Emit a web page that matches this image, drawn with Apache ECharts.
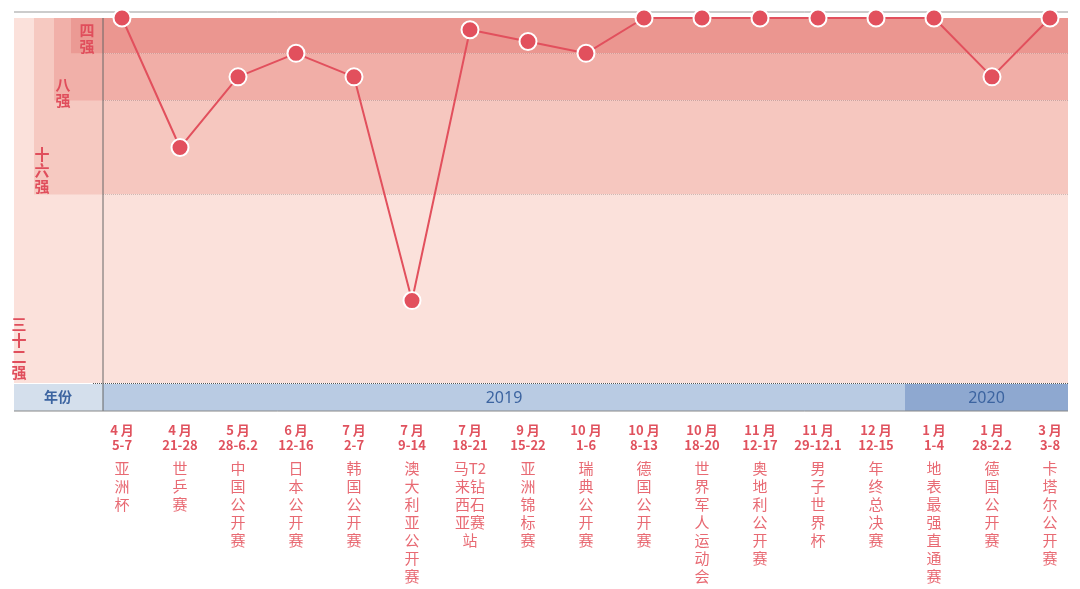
<!DOCTYPE html>
<html><head><meta charset="utf-8">
<script src="https://cdn.jsdelivr.net/npm/echarts@6/dist/echarts.min.js"></script>
<style>html,body{margin:0;padding:0;background:#fff}#c{width:1080px;height:589px}</style>
</head><body><div id="c"></div>
<script>
const months = ['4月','4月','5月','6月','7月','7月','7月','9月','10月','10月','10月','11月','11月','12月','1月','1月','3月'];
const dates = ['5-7','21-28','28-6.2','12-16','2-7','9-14','18-21','15-22','1-6','8-13','18-20','12-17','29-12.1','12-15','1-4','28-2.2','3-8'];
const names = ['亚洲杯','世乒赛','中国公开赛','日本公开赛','韩国公开赛','澳大利亚公开赛','马来西亚站|T2钻石赛','亚洲锦标赛','瑞典公开赛','德国公开赛','世界军人运动会','奥地利公开赛','男子世界杯','年终总决赛','地表最强直通赛','德国公开赛','卡塔尔公开赛'];
const ranks = [1,12,6,4,6,25,2,3,4,1,1,1,1,1,1,6,1];
const years = ['2019','2020'];
const yearSpan = [14,3];
const bands = [[1,4,'#eb9690'],[4,8,'#f1aea7'],[8,16,'#f6c7bf'],[16,32,'#fbe1db']];

(function(){
const cats = months.map((m,i)=>String(i));
function fmtLabel(i){
  const m = months[i].replace('月',' 月');
  let nm = names[i];
  let lines;
  if(nm.includes('|')){
    const [a,b]=nm.split('|');
    const bb=['T2','钻','石','赛'];
    lines=[];
    for(let k=0;k<Math.max(a.length,bb.length);k++){lines.push((a[k]||'  ')+(bb[k]?bb[k]:''));}
  } else lines = nm.split('');
  return '{m|'+m+'}\n{d|'+dates[i]+'}\n{s|}\n'+lines.map(l=>'{n|'+l+'}').join('\n');
}
const chart = echarts.init(document.getElementById('c'));
const gTop=18, gBot=383, pl=103, pr=1068;
const R=31;
const yOf = r => gTop + (r-1)*(gBot-gTop)/R;
const bx = 93, bw = 1079-93;
const xOfCatEdge = k => bx + k*bw/17;
let graphics = [];
graphics.push({type:'line',shape:{x1:14,y1:12,x2:1068,y2:12},style:{stroke:'#999',lineWidth:1},z:1});
graphics.push({type:'rect',shape:{x:14,y:gTop,width:pl-14,height:gBot-gTop},style:{fill:'#fbe1db'},z:10});
graphics.push({type:'rect',shape:{x:34,y:gTop,width:pl-34,height:yOf(16)-gTop},style:{fill:'#f6c9c1'},z:10});
graphics.push({type:'rect',shape:{x:54,y:gTop,width:pl-54,height:yOf(8)-gTop},style:{fill:'#f1b0a9'},z:10});
graphics.push({type:'rect',shape:{x:71,y:gTop,width:pl-71,height:yOf(4)-gTop},style:{fill:'#eb9a94'},z:10});
graphics.push({type:'line',shape:{x1:pl,y1:gTop,x2:pl,y2:411},style:{stroke:'#666',lineWidth:1},z:11});
const vt=(t,x,y,s)=>graphics.push({type:'text',x:x,y:y,style:{text:t.split('').join('\n'),fill:'#e04e5c',font:'bold '+s+'px "Noto Sans CJK SC"',lineHeight:s+1,align:'center'},z:12});
vt('四强',87,22,15); vt('八强',63,76,15); vt('十六强',42,146,15); vt('三十二强',19,316,15);
graphics.push({type:'rect',shape:{x:14,y:384,width:pl-14,height:27},style:{fill:'#d4dfec'},z:10});
graphics.push({type:'text',x:58,y:397,style:{text:'年份',fill:'#3c64a0',font:'bold 14px "Noto Sans CJK SC"',align:'center',verticalAlign:'middle'},z:12});
let k0=0;
years.forEach((y,j)=>{
  const x1 = j==0?pl:xOfCatEdge(k0), x2 = j==years.length-1?pr:xOfCatEdge(k0+yearSpan[j]);
  graphics.push({type:'rect',shape:{x:x1,y:384,width:x2-x1,height:27},style:{fill:j==0?'#b9cbe3':'#8ea8d0'},z:10});
  graphics.push({type:'text',x:(x1+x2)/2,y:398,style:{text:y,fill:'#3c64a0',font:'16px "Noto Sans"',align:'center',verticalAlign:'middle'},z:12});
  k0+=yearSpan[j];
});
graphics.push({type:'line',shape:{x1:14,y1:411,x2:1068,y2:411},style:{stroke:'#888',lineWidth:1},z:12});
graphics.push({type:'rect',shape:{x:pr,y:0,width:20,height:420},style:{fill:'#fff'},z:9});

chart.setOption({
  animation:false,
  grid:{left:bx,right:1,top:gTop,bottom:589-gBot},
  xAxis:{type:'category',data:cats,boundaryGap:true,
    axisLine:{show:false},axisTick:{show:false},
    splitLine:{show:false},
    axisLabel:{interval:0,margin:40,formatter:(v,idx)=>fmtLabel(idx),
      rich:{m:{fontFamily:'"Noto Sans CJK SC"',fontWeight:'bold',fontSize:13,color:'#e0525e',lineHeight:15,align:'center'},
            d:{fontFamily:'"Noto Sans CJK SC"',fontWeight:'bold',fontSize:13,color:'#e0525e',lineHeight:15,align:'center'},
            s:{height:6,lineHeight:6},
            n:{fontFamily:'"Noto Sans CJK SC"',fontSize:15,color:'#e86a73',lineHeight:18,align:'center'}}}},
  yAxis:{type:'value',inverse:true,min:1,max:32,interval:1,axisLabel:{show:false},axisLine:{show:false},axisTick:{show:false},
    splitLine:{show:true,lineStyle:{color:'#555',type:'dotted',width:1}}},
  graphic:graphics,
  series:[{type:'line',data:ranks,symbol:'circle',symbolSize:17,
    lineStyle:{color:'#e2505d',width:2},
    itemStyle:{color:'#e2505d',borderColor:'#fff',borderWidth:2},z:20,
    markArea:{silent:true,itemStyle:{opacity:1},data:bands.map(b=>[{yAxis:b[0],itemStyle:{color:b[2]}},{yAxis:b[1]}])}
  }]
});
})();
</script></body></html>
